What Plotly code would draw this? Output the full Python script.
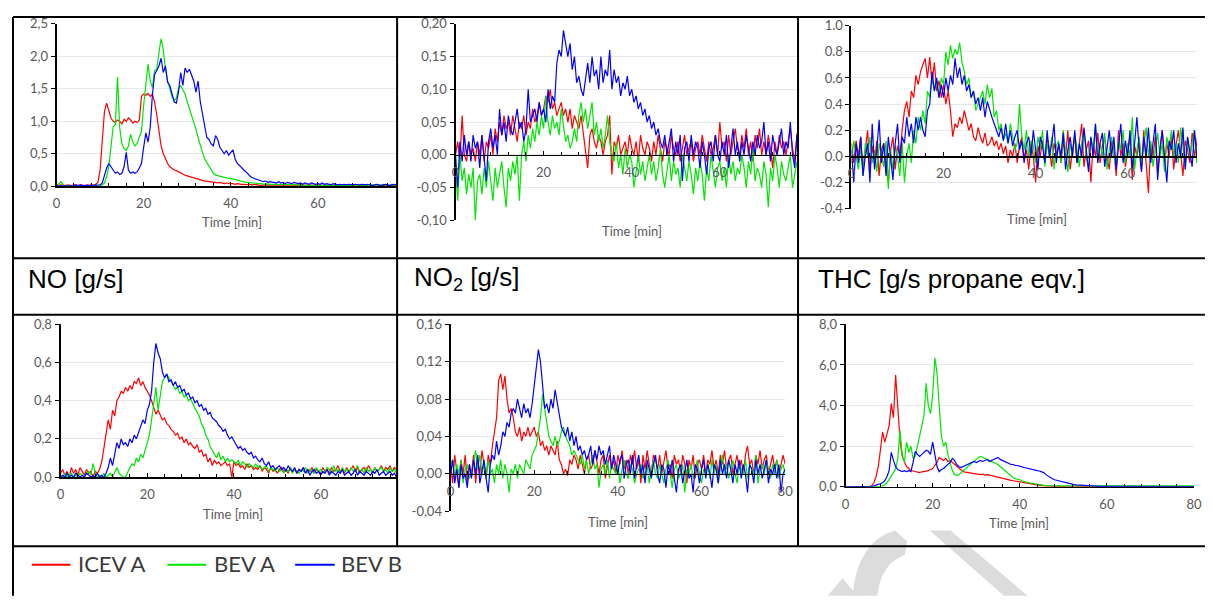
import plotly.graph_objects as go

# ---------------- data ----------------
TIME = [i / 2 for i in range(161)]  # minutes, 0 .. 80 in 0.5 min steps

SERIES_NAMES = ["ICEV A", "BEV A", "BEV B"]
SERIES_COLORS = ["#ff0000", "#00e600", "#0000ff"]

# --- NO [g/s] ---
no_icev_a = [
    0.02,0.01,0.02,0.01,0.01,0.02,0.01,0.01,0.02,0.01,
    0.01,0.02,0.01,0.01,0.02,0.01,0.02,0.01,0.03,0.06,
    0.25,0.7,1.15,1.28,1.18,1.05,1.0,0.98,1.02,1.0,
    0.96,1.03,1.0,1.05,1.02,0.97,1.0,0.98,1.02,1.38,
    1.42,1.4,1.43,1.38,1.42,1.3,1.1,0.85,0.62,0.5,
    0.42,0.35,0.3,0.27,0.25,0.24,0.22,0.2,0.19,0.17,
    0.16,0.15,0.13,0.12,0.11,0.1,0.1,0.09,0.08,0.08,
    0.07,0.07,0.06,0.06,0.05,0.06,0.05,0.04,0.05,0.04,
    0.04,0.04,0.03,0.04,0.03,0.03,0.03,0.02,0.03,0.02,
    0.02,0.03,0.02,0.02,0.01,0.02,0.02,0.01,0.02,0.01,
    0.01,0.02,0.01,0.01,0.02,0.01,0.01,0.02,0.01,0.01,
    0.02,0.01,0.01,0.02,0.01,0.01,0.02,0.01,0.01,0.02,
    0.01,0.01,0.02,0.01,0.01,0.02,0.01,0.01,0.02,0.01,
    0.01,0.02,0.01,0.01,0.02,0.01,0.01,0.02,0.01,0.01,
    0.02,0.01,0.01,0.02,0.01,0.01,0.02,0.01,0.01,0.02,
    0.01,0.01,0.02,0.01,0.01,0.02,0.01,0.01,0.02,0.01,
    0.01]
no_bev_a = [
    0.0,0.03,0.07,0.02,0.01,0.0,0.01,0.0,0.01,0.0,
    0.01,0.0,0.01,0.0,0.01,0.0,0.01,0.0,0.01,0.0,
    0.01,0.02,0.05,0.15,0.3,0.6,0.92,0.95,1.68,0.9,
    0.65,0.58,0.55,0.62,0.8,0.68,0.62,0.66,0.75,0.85,
    1.25,1.55,1.88,1.62,1.52,1.78,1.8,2.05,2.27,2.1,
    1.8,1.62,1.5,1.38,1.32,1.36,1.5,1.55,1.48,1.42,
    1.3,1.2,1.1,1.0,0.88,0.75,0.62,0.52,0.42,0.36,
    0.3,0.24,0.2,0.17,0.16,0.15,0.14,0.14,0.13,0.12,
    0.12,0.11,0.1,0.09,0.08,0.08,0.07,0.06,0.06,0.05,
    0.05,0.05,0.04,0.04,0.04,0.03,0.04,0.03,0.03,0.03,
    0.03,0.02,0.03,0.02,0.03,0.02,0.02,0.03,0.02,0.02,
    0.02,0.03,0.02,0.02,0.01,0.02,0.02,0.01,0.02,0.02,
    0.01,0.02,0.01,0.02,0.02,0.01,0.02,0.01,0.02,0.01,
    0.02,0.01,0.02,0.02,0.01,0.02,0.01,0.02,0.01,0.02,
    0.02,0.01,0.02,0.01,0.02,0.02,0.01,0.02,0.01,0.02,
    0.03,0.02,0.01,0.02,0.03,0.02,0.01,0.02,0.03,0.02,
    0.02]
no_bev_b = [
    0.01,0.0,0.01,0.0,0.01,0.0,0.01,0.0,0.01,0.02,
    0.01,0.02,0.01,0.01,0.02,0.01,0.02,0.01,0.02,0.01,
    0.02,0.05,0.18,0.28,0.35,0.3,0.25,0.2,0.22,0.18,
    0.2,0.3,0.52,0.25,0.2,0.22,0.2,0.22,0.28,0.35,
    0.6,0.82,0.68,0.9,1.4,1.72,1.78,1.85,1.97,1.75,
    1.85,1.6,1.55,1.4,1.3,1.28,1.45,1.75,1.55,1.82,
    1.75,1.8,1.7,1.62,1.45,1.62,1.3,1.1,0.95,0.75,
    0.72,0.65,0.62,0.78,0.72,0.6,0.55,0.5,0.55,0.48,
    0.52,0.56,0.42,0.35,0.32,0.28,0.25,0.22,0.18,0.15,
    0.13,0.12,0.1,0.09,0.08,0.07,0.08,0.06,0.07,0.06,
    0.06,0.05,0.07,0.05,0.06,0.04,0.06,0.05,0.04,0.06,
    0.05,0.04,0.05,0.03,0.05,0.04,0.03,0.05,0.04,0.03,
    0.04,0.03,0.05,0.03,0.04,0.03,0.02,0.04,0.03,0.02,
    0.03,0.02,0.03,0.02,0.03,0.02,0.02,0.03,0.02,0.02,
    0.03,0.02,0.02,0.03,0.02,0.01,0.02,0.03,0.02,0.01,
    0.02,0.03,0.02,0.01,0.02,0.03,0.02,0.02,0.01,0.02,
    0.02]

# --- NO2 [g/s] ---
no2_icev_a = [
    0.0,0.02,-0.01,0.06,0.0,-0.01,0.02,0.0,0.01,-0.01,
    0.02,0.0,0.03,-0.01,0.02,0.01,0.03,0.0,0.04,0.02,
    0.05,0.03,0.06,0.04,0.05,0.03,0.06,0.04,0.02,0.05,
    0.04,0.06,0.03,0.05,0.04,0.07,0.05,0.06,0.08,0.06,
    0.07,0.09,0.08,0.1,0.07,0.08,0.06,0.07,0.08,0.06,
    0.07,0.05,0.07,0.04,0.06,0.05,0.04,0.06,0.03,0.01,
    -0.02,0.03,0.04,0.02,0.01,0.03,0.02,0.0,0.02,0.03,
    0.06,-0.03,0.02,0.01,0.03,0.0,0.01,0.02,0.0,0.03,
    0.01,0.0,0.02,-0.01,0.03,0.01,0.0,0.02,0.01,-0.01,
    0.02,0.0,0.03,0.01,-0.01,0.02,0.01,0.0,0.03,0.01,
    0.0,0.02,-0.01,0.01,0.03,0.0,0.01,0.02,-0.01,0.01,
    0.02,0.0,0.03,0.01,-0.01,0.02,0.0,0.01,0.03,0.0,
    0.05,0.01,0.02,-0.01,0.03,0.0,0.02,0.04,0.01,0.0,
    0.03,0.01,0.04,0.0,0.02,-0.01,0.03,0.01,0.04,0.0,
    0.02,0.0,0.03,0.01,-0.02,0.02,0.0,0.03,0.01,0.02,
    0.0,0.02,0.04,0.01,-0.01,0.03,0.05,0.0,0.02,0.01,
    0.02]
no2_bev_a = [
    -0.02,-0.07,0.0,-0.04,-0.02,-0.06,-0.03,-0.05,-0.02,-0.1,
    -0.04,-0.03,-0.06,-0.02,-0.05,-0.01,-0.04,-0.07,-0.02,-0.05,
    -0.03,-0.01,-0.05,-0.08,-0.02,-0.04,-0.01,-0.03,0.0,-0.07,
    0.0,0.02,-0.01,0.03,0.01,0.04,0.02,0.05,0.03,0.06,
    0.04,0.09,0.05,0.03,0.06,0.04,0.05,0.03,0.07,0.04,
    0.02,0.03,0.01,0.02,0.04,0.02,0.06,0.08,0.05,0.07,
    0.04,0.06,0.08,0.03,0.05,0.02,0.04,0.01,0.03,0.06,
    0.02,0.0,-0.01,0.02,-0.02,0.0,-0.03,0.01,-0.02,0.0,
    -0.01,-0.05,-0.02,0.0,-0.03,-0.01,-0.04,-0.02,0.0,-0.03,
    -0.01,-0.04,-0.02,0.01,-0.03,-0.05,-0.02,0.0,-0.04,-0.01,
    -0.03,-0.02,-0.05,0.0,-0.02,-0.04,-0.01,-0.03,-0.06,-0.02,
    -0.04,-0.01,-0.03,-0.07,-0.02,-0.04,0.0,-0.03,-0.05,-0.02,
    -0.01,-0.04,-0.02,-0.05,0.0,-0.03,-0.01,-0.04,-0.02,-0.03,
    0.0,-0.02,-0.05,-0.01,-0.03,0.01,-0.04,-0.02,-0.03,-0.05,
    -0.01,-0.03,-0.08,-0.02,-0.04,0.0,-0.02,-0.05,-0.01,-0.03,
    -0.04,-0.02,0.0,-0.05,-0.03,-0.01,-0.04,-0.02,-0.03,-0.01,
    -0.03]
no2_bev_b = [
    0.0,-0.05,0.02,-0.01,0.03,0.0,0.02,-0.01,0.03,0.01,
    0.02,-0.02,0.03,0.0,-0.04,0.02,0.04,0.01,0.03,0.0,
    0.07,0.03,0.05,0.02,0.06,0.04,0.03,0.05,0.07,0.04,
    0.05,0.02,0.04,0.1,0.05,0.06,0.07,0.05,0.08,0.06,
    0.07,0.05,0.1,0.07,0.09,0.08,0.14,0.16,0.15,0.19,
    0.17,0.15,0.17,0.13,0.15,0.11,0.12,0.1,0.09,0.12,
    0.14,0.11,0.15,0.12,0.13,0.1,0.15,0.11,0.13,0.12,
    0.16,0.1,0.13,0.11,0.12,0.09,0.11,0.1,0.12,0.09,
    0.1,0.08,0.09,0.07,0.08,0.06,0.07,0.05,0.06,0.04,
    0.05,0.03,0.04,0.02,0.01,0.03,0.0,0.02,0.04,-0.01,
    0.02,0.0,0.03,-0.04,0.01,0.02,-0.01,0.03,0.0,0.02,
    0.01,-0.02,0.02,0.0,-0.03,0.01,0.02,-0.01,0.03,0.0,
    -0.01,0.02,0.0,0.03,-0.02,0.01,0.04,0.0,0.02,-0.01,
    0.02,0.0,0.03,0.01,-0.01,0.02,0.0,0.03,0.01,0.02,
    0.05,0.0,0.02,-0.01,0.03,0.01,0.0,0.02,0.04,0.0,
    0.02,0.01,0.05,0.0,-0.02,0.03,0.01,0.02,-0.01,0.02,
    0.0]

# --- THC [g/s propane eqv.] ---
thc_icev_a = [
    0.1,-0.05,0.12,0.0,0.15,-0.1,0.05,0.2,-0.12,0.08,
    -0.05,0.12,-0.15,0.05,0.1,-0.08,-0.2,0.05,0.15,-0.1,
    0.08,0.0,0.2,0.35,0.42,0.3,0.5,0.45,0.62,0.55,
    0.65,0.7,0.75,0.6,0.76,0.55,0.72,0.5,0.58,0.45,
    0.55,0.4,0.5,0.35,0.15,0.25,0.22,0.3,0.25,0.35,
    0.28,0.2,0.25,0.15,0.12,0.22,0.15,0.1,0.18,0.08,
    0.1,0.15,0.08,0.12,0.05,0.1,0.02,0.08,-0.05,0.05,
    0.0,0.1,-0.05,0.08,0.15,-0.02,0.05,-0.1,0.1,0.0,
    -0.2,0.08,0.0,0.12,-0.05,0.15,0.05,-0.08,0.1,0.02,
    0.08,-0.05,0.12,0.0,0.2,-0.1,0.05,0.15,-0.05,0.1,
    0.25,-0.08,0.05,0.12,-0.2,0.1,0.0,0.18,-0.05,0.08,
    0.15,0.0,-0.1,0.12,0.05,-0.15,0.2,0.0,0.1,-0.08,
    0.05,0.15,-0.18,0.08,0.0,0.12,-0.1,0.2,-0.05,-0.28,
    0.1,0.0,0.15,-0.12,0.05,0.2,-0.05,0.1,0.0,0.15,
    -0.1,0.08,0.2,0.0,-0.15,0.12,0.05,-0.05,0.18,0.0,
    0.1,0.25,-0.08,0.05,0.15,-0.1,0.08,0.0,0.12,-0.05,
    0.05]
thc_bev_a = [
    -0.05,0.12,0.0,-0.1,0.08,-0.15,0.1,0.0,0.15,-0.05,
    0.05,-0.12,0.1,0.0,-0.08,0.12,-0.25,0.05,-0.1,0.08,
    0.0,-0.15,0.1,-0.2,0.0,0.1,-0.05,0.2,0.1,0.3,
    0.2,0.35,0.25,0.5,0.45,0.62,0.5,0.58,0.45,0.6,
    0.55,0.8,0.7,0.85,0.75,0.82,0.78,0.87,0.72,0.65,
    0.55,0.6,0.45,0.5,0.35,0.4,0.45,0.5,0.4,0.55,
    0.45,0.52,0.3,0.35,0.2,0.25,0.12,0.18,0.1,0.25,
    0.15,0.05,0.1,0.4,0.15,0.05,0.2,0.0,0.12,0.08,
    -0.05,0.15,0.05,0.2,-0.08,0.1,0.0,0.15,-0.1,0.08,
    0.12,-0.05,0.2,0.05,-0.12,0.1,0.0,0.18,0.05,-0.08,
    0.1,0.2,0.0,-0.1,0.15,0.05,0.25,-0.05,0.1,0.0,
    0.18,-0.1,0.05,0.15,0.0,-0.08,0.12,0.05,0.2,-0.05,
    0.1,0.0,0.3,-0.1,0.05,0.15,-0.05,0.1,0.22,0.0,
    0.12,-0.08,0.05,0.18,0.0,0.1,-0.12,0.15,0.05,0.2,
    0.0,0.1,-0.05,0.22,0.08,-0.1,0.15,0.0,0.1,0.2,
    -0.05,0.12,0.05,0.25,0.0,0.1,-0.08,0.15,0.05,0.0,
    0.1]
thc_bev_b = [
    0.05,-0.2,0.1,-0.05,0.15,-0.15,0.0,0.1,-0.2,0.25,
    -0.1,0.05,0.28,-0.05,0.1,-0.15,0.15,0.0,-0.18,0.1,
    0.25,-0.05,0.15,0.1,0.3,0.15,0.25,0.1,0.3,0.2,
    0.3,0.2,0.15,0.35,0.4,0.65,0.5,0.6,0.45,0.55,
    0.45,0.6,0.5,0.62,0.55,0.75,0.6,0.68,0.55,0.62,
    0.5,0.55,0.45,0.5,0.4,0.45,0.35,0.45,0.3,0.42,
    0.35,0.3,0.25,0.2,0.15,0.22,0.12,0.25,0.1,0.2,
    0.08,0.15,0.2,0.05,0.12,-0.05,0.1,0.15,0.0,0.2,
    0.05,-0.1,0.15,0.08,-0.05,0.2,0.0,0.1,0.25,-0.05,
    0.1,0.0,0.18,-0.1,0.05,0.15,0.0,0.2,-0.05,0.1,
    0.0,0.22,0.05,-0.12,0.15,0.0,0.25,-0.05,0.1,0.18,
    -0.08,0.05,0.2,0.0,0.15,-0.1,0.1,0.25,-0.05,0.12,
    0.0,0.2,-0.1,0.1,0.3,0.05,-0.12,0.15,0.0,0.22,
    -0.05,0.1,0.25,-0.18,0.05,0.2,0.0,-0.2,0.12,0.05,
    0.2,-0.05,0.1,0.0,0.22,-0.1,0.15,0.05,-0.08,0.2,
    0.0,0.1,-0.12,0.15,0.05,0.2,-0.05,0.1,0.0,-0.1,
    0.05]

# --- lower-left panel ---
ll_icev_a = [
    0.02,0.04,0.01,0.03,0.0,0.05,0.02,0.04,0.01,0.05,
    0.03,0.01,0.04,0.02,0.03,0.0,0.03,0.02,0.04,0.08,
    0.15,0.22,0.3,0.25,0.35,0.32,0.4,0.42,0.45,0.44,
    0.47,0.45,0.48,0.46,0.5,0.49,0.52,0.48,0.5,0.47,
    0.45,0.43,0.4,0.36,0.33,0.35,0.32,0.3,0.31,0.28,
    0.27,0.25,0.24,0.22,0.23,0.2,0.21,0.18,0.2,0.17,
    0.18,0.16,0.15,0.17,0.13,0.14,0.11,0.12,0.08,0.1,
    0.06,0.09,0.07,0.08,0.06,0.07,0.08,0.06,0.07,0.0,
    0.08,0.06,0.07,0.05,0.06,0.04,0.07,0.05,0.06,0.04,
    0.05,0.04,0.06,0.03,0.05,0.04,0.02,0.05,0.03,0.04,
    0.02,0.04,0.05,0.03,0.04,0.02,0.05,0.03,0.04,0.02,
    0.04,0.03,0.05,0.02,0.04,0.03,0.05,0.02,0.04,0.03,
    0.02,0.05,0.03,0.04,0.02,0.05,0.03,0.04,0.06,0.03,
    0.04,0.02,0.05,0.03,0.04,0.06,0.03,0.05,0.02,0.04,
    0.05,0.03,0.06,0.04,0.02,0.05,0.03,0.04,0.06,0.03,
    0.05,0.04,0.06,0.03,0.05,0.04,0.06,0.03,0.05,0.04,
    0.05]
ll_bev_a = [
    0.01,0.0,0.02,0.0,0.01,0.02,0.0,0.01,0.0,0.02,
    0.01,0.0,0.02,0.03,0.01,0.07,0.02,0.0,0.01,0.0,
    0.02,0.0,0.01,0.02,0.0,0.03,0.05,0.02,0.01,0.0,
    0.0,0.03,0.05,0.07,0.06,0.1,0.08,0.12,0.1,0.14,
    0.18,0.22,0.3,0.4,0.47,0.35,0.42,0.5,0.52,0.54,
    0.52,0.5,0.48,0.46,0.47,0.44,0.45,0.42,0.43,0.4,
    0.41,0.38,0.36,0.34,0.32,0.28,0.26,0.22,0.2,0.16,
    0.14,0.12,0.1,0.13,0.09,0.11,0.08,0.1,0.08,0.09,
    0.08,0.07,0.09,0.06,0.08,0.07,0.05,0.07,0.06,0.05,
    0.07,0.05,0.06,0.04,0.05,0.06,0.03,0.05,0.04,0.03,
    0.05,0.03,0.04,0.02,0.04,0.03,0.05,0.02,0.04,0.03,
    0.02,0.04,0.03,0.05,0.02,0.04,0.03,0.02,0.05,0.03,
    0.04,0.02,0.03,0.05,0.04,0.02,0.06,0.03,0.04,0.02,
    0.05,0.03,0.04,0.02,0.05,0.03,0.04,0.06,0.03,0.04,
    0.02,0.05,0.03,0.04,0.02,0.05,0.03,0.04,0.05,0.03,
    0.04,0.02,0.05,0.03,0.04,0.02,0.03,0.05,0.02,0.04,
    0.03]
ll_bev_b = [
    0.0,0.01,0.0,0.02,0.0,0.01,0.0,0.02,0.01,0.0,
    0.01,0.0,0.02,0.01,0.0,0.01,0.0,0.02,0.0,0.01,
    0.0,0.02,0.05,0.1,0.06,0.12,0.18,0.15,0.2,0.17,
    0.18,0.16,0.2,0.18,0.22,0.2,0.23,0.26,0.3,0.28,
    0.35,0.38,0.45,0.6,0.7,0.65,0.62,0.55,0.52,0.54,
    0.5,0.51,0.48,0.5,0.47,0.48,0.45,0.46,0.43,0.44,
    0.41,0.42,0.39,0.4,0.37,0.38,0.35,0.36,0.33,0.34,
    0.31,0.3,0.29,0.27,0.26,0.24,0.25,0.22,0.2,0.21,
    0.19,0.17,0.15,0.16,0.14,0.15,0.13,0.12,0.13,0.1,
    0.11,0.09,0.08,0.1,0.07,0.06,0.08,0.05,0.06,0.04,
    0.05,0.06,0.04,0.05,0.03,0.06,0.04,0.03,0.05,0.02,
    0.04,0.03,0.05,0.02,0.04,0.01,0.03,0.04,0.02,0.03,
    0.01,0.03,0.02,0.04,0.01,0.03,0.02,0.01,0.03,0.02,
    0.04,0.01,0.02,0.03,0.01,0.02,0.04,0.01,0.03,0.02,
    0.01,0.03,0.02,0.01,0.03,0.02,0.04,0.01,0.02,0.03,
    0.01,0.02,0.03,0.01,0.02,0.0,0.02,0.06,0.01,0.02,
    0.01]

# --- lower-middle panel ---
lm_icev_a = [
    0.01,-0.01,0.02,0.0,-0.015,0.015,0.0,0.02,-0.01,0.01,
    0.0,0.02,-0.01,0.015,0.0,0.025,0.01,-0.005,0.02,0.01,
    0.03,0.045,0.06,0.1,0.107,0.09,0.105,0.08,0.065,0.07,
    0.06,0.045,0.04,0.05,0.035,0.045,0.04,0.05,0.04,0.045,
    0.05,0.04,0.045,0.03,0.035,0.025,0.03,0.02,0.03,0.025,
    0.02,0.035,0.015,0.01,0.0,0.005,-0.002,0.015,0.01,0.02,
    0.015,0.005,0.02,0.01,0.0,0.015,0.02,0.005,0.01,0.025,
    0.01,0.0,0.015,0.02,-0.005,0.01,0.02,0.005,0.015,0.0,
    0.02,0.01,0.025,0.005,0.015,0.0,0.02,0.01,0.025,0.005,
    0.015,-0.01,0.02,0.005,0.025,0.01,0.0,0.02,0.015,0.005,
    0.02,0.0,0.015,0.025,0.005,0.01,-0.005,0.02,0.01,0.015,
    0.0,0.02,0.01,-0.01,0.015,0.005,0.02,-0.005,0.01,0.015,
    0.005,0.02,0.0,0.015,0.01,0.025,0.005,0.015,0.0,0.02,
    0.01,0.025,0.005,0.015,0.02,0.0,0.01,0.02,0.005,0.015,
    0.0,0.02,0.03,0.01,0.015,0.0,0.02,0.01,0.025,0.005,
    0.015,0.02,0.0,0.01,0.02,0.005,0.015,0.0,0.01,0.02,
    0.01]
lm_bev_a = [
    0.01,0.015,-0.005,0.01,0.0,0.015,-0.01,0.005,0.01,-0.005,
    0.0,0.015,0.025,0.005,0.02,0.0,0.01,-0.005,0.015,0.0,
    0.005,-0.01,0.01,0.0,0.015,-0.005,0.01,0.0,-0.02,0.005,
    0.0,0.01,-0.005,0.01,0.005,0.0,0.015,0.01,0.005,0.02,
    0.025,0.03,0.045,0.06,0.085,0.07,0.05,0.04,0.035,0.03,
    0.04,0.03,0.035,0.045,0.05,0.04,0.035,0.03,0.02,0.025,
    0.02,0.015,0.01,0.02,0.005,0.015,0.0,0.01,0.02,0.005,
    0.01,-0.015,0.005,0.01,0.0,0.015,-0.005,0.01,0.005,0.0,
    0.01,-0.01,0.005,0.015,0.0,-0.005,0.01,0.005,-0.01,0.0,
    0.005,0.01,-0.005,0.0,0.01,-0.01,0.005,0.015,0.0,-0.005,
    0.01,0.0,-0.01,0.005,0.015,0.0,-0.015,0.005,0.01,-0.005,
    0.0,0.01,-0.02,0.005,0.0,0.01,-0.005,0.005,0.015,0.0,
    -0.01,0.005,0.0,0.01,-0.005,0.015,0.0,0.01,-0.01,0.005,
    0.02,0.0,0.01,-0.005,0.005,0.015,0.0,-0.01,0.01,0.005,
    0.0,0.015,-0.005,0.01,0.005,0.0,0.02,-0.01,0.005,0.01,
    0.0,0.015,0.005,-0.005,0.01,0.0,0.015,-0.005,0.005,0.01,
    0.0]
lm_bev_b = [
    0.0,0.015,-0.01,0.005,-0.015,0.01,-0.005,0.0,-0.015,0.01,
    -0.005,0.015,0.0,0.02,-0.01,0.005,0.015,-0.005,-0.02,0.01,
    0.02,0.015,0.035,0.02,0.03,0.045,0.04,0.055,0.05,0.065,
    0.07,0.065,0.08,0.07,0.06,0.075,0.065,0.07,0.06,0.075,
    0.095,0.12,0.133,0.12,0.09,0.07,0.075,0.065,0.08,0.07,
    0.09,0.075,0.06,0.05,0.045,0.04,0.05,0.035,0.045,0.03,
    0.04,0.025,0.03,0.02,0.025,0.015,0.02,0.03,0.01,0.025,
    0.015,0.03,0.02,0.025,0.01,0.02,0.03,0.005,0.02,0.01,
    0.0,0.015,0.02,-0.005,0.01,0.015,0.0,0.02,-0.005,0.01,
    0.02,0.0,0.01,-0.01,0.015,0.005,-0.005,0.01,0.02,0.0,
    -0.01,0.01,0.005,-0.015,0.01,0.0,0.015,-0.005,-0.02,0.005,
    0.01,-0.01,0.005,0.015,-0.005,0.0,-0.02,0.01,0.005,-0.01,
    0.005,0.015,-0.005,0.01,0.0,-0.015,0.01,0.005,-0.01,0.015,
    0.0,0.01,-0.005,0.015,0.005,-0.01,0.01,0.0,0.015,-0.005,
    0.01,0.0,-0.02,0.01,0.005,-0.01,0.015,0.0,0.01,-0.005,
    0.005,0.015,-0.01,0.005,0.0,0.01,-0.005,0.01,-0.02,0.0,
    0.005]

# --- lower-right panel ---
lr_icev_a = [
    0,0,0,0,0,0,0,0,0,0,
    0,0.02,0.05,0.2,0.5,1.0,1.8,2.7,2.2,2.6,
    3.0,4.1,3.4,5.5,4.0,2.3,1.5,1.2,1.0,0.9,
    0.8,0.78,0.75,0.72,0.7,0.74,0.75,0.78,0.8,0.85,
    0.9,1.05,1.2,1.45,1.35,1.3,1.4,1.25,1.3,1.2,
    1.1,1.0,0.9,0.8,0.75,0.72,0.7,0.68,0.66,0.65,
    0.65,0.62,0.6,0.62,0.58,0.6,0.56,0.55,0.53,0.5,
    0.48,0.45,0.43,0.4,0.38,0.35,0.32,0.3,0.28,0.25,
    0.22,0.2,0.18,0.16,0.14,0.12,0.1,0.09,0.08,0.07,
    0.06,0.05,0.04,0.04,0.03,0.03,0.02,0.02,0.02,0.01,
    0.01,0.01,0.01,0.01,0.01,0.01,0.01,0.01,0.01,0.01,
    0.01,0.01,0.01,0.01,0.01,0.01,0.01,0.01,0.01,0.01,
    0.01,0.01,0.01,0.01,0.01,0.01,0.01,0.01,0.01,0.01,
    0.01,0.01,0.01,0.01,0.01,0.01,0.01,0.01,0.01,0.01,
    0.01,0.01,0.01,0.01,0.01,0.01,0.01,0.01,0.01,0.01,
    0.01,0.01,0.01,0.01,0.01,0.01,0.01,0.01,0.01,0.01,
    0.01]
lr_bev_a = [
    0,0,0,0,0,0,0,0,0,0,
    0,0,0,0,0,0,0.02,0.05,0.1,0.2,
    0.35,0.5,0.7,0.9,1.4,2.8,1.6,1.2,2.2,1.7,
    2.0,1.4,1.5,2.0,2.5,3.0,3.5,5.1,4.0,3.6,
    4.5,6.35,5.6,4.0,2.5,2.0,2.2,1.6,1.2,0.8,
    0.6,0.55,0.6,0.7,0.8,0.9,1.0,1.1,1.2,1.3,
    1.4,1.45,1.5,1.45,1.4,1.35,1.3,1.25,1.2,1.15,
    1.1,1.0,0.9,0.8,0.7,0.6,0.5,0.45,0.4,0.38,
    0.35,0.3,0.25,0.22,0.2,0.18,0.15,0.13,0.11,0.1,
    0.08,0.07,0.06,0.05,0.05,0.04,0.04,0.04,0.03,0.03,
    0.03,0.04,0.03,0.04,0.03,0.04,0.03,0.04,0.03,0.04,
    0.03,0.04,0.03,0.04,0.03,0.04,0.03,0.04,0.04,0.04,
    0.04,0.04,0.04,0.05,0.04,0.04,0.05,0.04,0.04,0.05,
    0.04,0.05,0.04,0.05,0.04,0.05,0.04,0.05,0.05,0.05,
    0.04,0.05,0.05,0.05,0.04,0.05,0.05,0.05,0.05,0.05,
    0.05,0.05,0.05,0.05,0.05,0.05,0.05,0.05,0.05,0.05,
    0.05]
lr_bev_b = [
    0,0,0,0,0,0,0,0,0,0,
    0,0,0.02,0.05,0.1,0.12,0.15,0.2,0.3,0.5,
    0.8,1.7,1.3,1.0,0.85,0.8,0.75,0.8,0.75,0.8,
    0.75,1.2,1.75,1.6,1.5,1.6,1.7,1.8,1.75,1.6,
    2.2,1.5,1.0,0.75,0.85,0.9,1.0,1.1,1.2,1.4,
    1.3,1.1,1.0,0.95,1.0,1.05,1.1,1.15,1.2,1.25,
    1.2,1.25,1.3,1.25,1.3,1.35,1.25,1.3,1.35,1.4,
    1.45,1.35,1.3,1.25,1.2,1.15,1.1,1.1,1.05,1.05,
    1.0,0.98,0.95,0.92,0.9,0.88,0.85,0.82,0.8,0.78,
    0.75,0.7,0.6,0.52,0.45,0.4,0.35,0.32,0.3,0.28,
    0.25,0.22,0.18,0.16,0.13,0.11,0.1,0.09,0.08,0.07,
    0.06,0.05,0.05,0.04,0.04,0.03,0.03,0.02,0.02,0.02,
    0.02,0.02,0.01,0.02,0.01,0.02,0.01,0.01,0.02,0.01,
    0.01,0.02,0.01,0.01,0.01,0.02,0.01,0.01,0.01,0.01,
    0.01,0.01,0.01,0.01,0.01,0.01,0.01,0.01,0.01,0.01,
    0.01,0.01,0.01,0.01,0.01,0.01,0.01,0.01,0.01,0.01,
    0.01]

# y tick values / labels per panel
NO_TICKS = [0, 0.5, 1.0, 1.5, 2.0, 2.5]
NO_LABELS = ["0,0", "0,5", "1,0", "1,5", "2,0", "2,5"]
NO2_TICKS = [-0.10, -0.05, 0.0, 0.05, 0.10, 0.15, 0.20]
NO2_LABELS = ["-0,10", "-0,05", "0,00", "0,05", "0,10", "0,15", "0,20"]
THC_TICKS = [-0.4, -0.2, 0.0, 0.2, 0.4, 0.6, 0.8, 1.0]
THC_LABELS = ["-0.4", "-0.2", "0.0", "0.2", "0.4", "0.6", "0.8", "1.0"]
LL_TICKS = [0, 0.2, 0.4, 0.6, 0.8]
LL_LABELS = ["0,0", "0,2", "0,4", "0,6", "0,8"]
LM_TICKS = [-0.04, 0.0, 0.04, 0.08, 0.12, 0.16]
LM_LABELS = ["-0,04", "0,00", "0,04", "0,08", "0,12", "0,16"]
LR_TICKS = [0, 2, 4, 6, 8]
LR_LABELS = ["0,0", "2,0", "4,0", "6,0", "8,0"]

ROW_LABELS = ["NO [g/s]", "NO<sub>2</sub> [g/s]", "THC [g/s propane eqv.]"]
X_TITLE = "Time [min]"

# ---------------- layout helpers ----------------
# The page body keeps its default 8px margin, so the figure is sized to
# fill the 1213x604 window exactly and page pixels are offset by 8.
PAGE_W, PAGE_H, OFF = 1213, 604, 8
W, H = PAGE_W - 2 * OFF, PAGE_H - 2 * OFF
def fx(px):
    return (px - OFF) / W
def fy(py):
    return 1 - (py - OFF) / H
def clamp(v):
    return max(0.0, min(1.0, v))

panels = [
    dict(data=[no_icev_a, no_bev_a, no_bev_b], xpx=(53, 397), ppm=4.4, ypx=(16, 183), yr=(0, 2.5),
         tv=NO_TICKS, tt=NO_LABELS, title=(230, 220)),
    dict(data=[no2_icev_a, no2_bev_a, no2_bev_b], xpx=(456, 802), ppm=4.45, ypx=(16, 218), yr=(-0.10, 0.20),
         tv=NO2_TICKS, tt=NO2_LABELS, title=(634, 229)),
    dict(data=[thc_icev_a, thc_bev_a, thc_bev_b], xpx=(856, 1205), ppm=4.65, ypx=(18, 206), yr=(-0.4, 1.0),
         tv=THC_TICKS, tt=THC_LABELS, title=(1043, 217)),
    dict(data=[ll_icev_a, ll_bev_a, ll_bev_b], xpx=(57, 397), ppm=4.38, ypx=(325, 482), yr=(0, 0.8),
         tv=LL_TICKS, tt=LL_LABELS, title=(231, 520)),
    dict(data=[lm_icev_a, lm_bev_a, lm_bev_b], xpx=(451, 789), ppm=4.225, ypx=(325, 517), yr=(-0.04, 0.16),
         tv=LM_TICKS, tt=LM_LABELS, title=(620, 528)),
    dict(data=[lr_icev_a, lr_bev_a, lr_bev_b], xpx=(850, 1202), ppm=4.4, ypx=(325, 492), yr=(0, 8),
         tv=LR_TICKS, tt=LR_LABELS, title=(1025, 529)),
]

TICK_FONT = dict(family="Lato, 'Open Sans', sans-serif", size=13, color="#595959")

fig = go.Figure()
layout = dict(width=W, height=H, margin=dict(l=0, r=0, t=0, b=0, pad=0), autosize=False,
              paper_bgcolor="white", plot_bgcolor="rgba(0,0,0,0)", showlegend=False)
annotations = []

for i, p in enumerate(panels):
    n = "" if i == 0 else str(i + 1)
    xa, ya = "x" + n, "y" + n
    for vals, name, col in zip(p["data"], SERIES_NAMES, SERIES_COLORS):
        fig.add_trace(go.Scatter(x=TIME, y=vals, name=name, mode="lines",
                                 line=dict(color=col, width=1.2), xaxis=xa, yaxis=ya,
                                 hoverinfo="skip"))
    x0p, x1p = p["xpx"]
    y0, y1 = p["ypx"]
    lo, hi = p["yr"]
    xmax = (x1p - x0p) / p["ppm"]
    xaxis = dict(domain=[clamp(fx(x0p)), clamp(fx(x1p))], range=[0, xmax],
                 showgrid=False, zeroline=False, showline=True, linecolor="black", linewidth=1.5,
                 ticks="inside", ticklen=4, tickcolor="black", tickwidth=1,
                 tick0=0, dtick=20, tickfont=TICK_FONT, ticklabelstandoff=5,
                 minor=dict(dtick=4, ticks="inside", ticklen=3, tickcolor="black", tickwidth=1),
                 fixedrange=True)
    if lo < 0:
        zero_px = y0 + (hi / (hi - lo)) * (y1 - y0)
        xaxis.update(anchor="free", position=fy(zero_px))
    else:
        xaxis.update(anchor=ya)
    yaxis = dict(domain=[fy(y1), fy(y0)], range=[lo, hi], anchor=xa,
                 tickvals=p["tv"], ticktext=p["tt"], tickfont=TICK_FONT,
                 showgrid=True, gridcolor="#e8e8e8", gridwidth=1, zeroline=False,
                 showline=True, linecolor="black", linewidth=2,
                 ticks="outside", ticklen=4, tickcolor="black", fixedrange=True)
    layout["xaxis" + n] = xaxis
    layout["yaxis" + n] = yaxis
    tx, ty = p["title"]
    annotations.append(dict(text=X_TITLE, x=fx(tx), y=fy(ty), xref="paper", yref="paper",
                            showarrow=False, xanchor="center", yanchor="middle",
                            font=dict(family="Lato, sans-serif", size=13, color="#595959")))

# row labels
for text, px in zip(ROW_LABELS, [22, 412, 820]):
    annotations.append(dict(text=text, x=fx(px), y=fy(278), xref="paper", yref="paper",
                            showarrow=False, xanchor="left", yanchor="middle",
                            font=dict(family="Liberation Sans, Arial, sans-serif", size=26, color="black")))

shapes = []
# legend (manual)
legend_pos = [(28, 67, 73), (165, 204, 210), (294, 334, 338)]
for (a, b, t), name, col in zip(legend_pos, SERIES_NAMES, SERIES_COLORS):
    shapes.append(dict(type="line", xref="paper", yref="paper", x0=fx(a), x1=fx(b), y0=fy(572), y1=fy(572),
                       line=dict(color=col, width=2)))
    annotations.append(dict(text=name, x=fx(t), y=fy(571), xref="paper", yref="paper",
                            showarrow=False, xanchor="left", yanchor="middle",
                            font=dict(family="Lato, sans-serif", size=22, color="#3a3a3a")))

# watermark fragments (page pixel paths)
WM = "#dcdcdc"
for path in [
    "M 935 537 L 956 537 L 1034 604 L 1010 604 Z",
    "M 857 604 Q 862 548 900 537 L 912 548 L 910 562 Q 886 570 882 604 Z",
    "M 847 586 L 862 604 L 832 604 Z",
]:
    toks = path.split()
    out = []
    k = 0
    while k < len(toks):
        t = toks[k]
        if t in ("M", "L", "Q", "Z"):
            out.append(t)
            k += 1
        else:
            out.append("%.5f,%.5f" % (fx(float(toks[k])), fy(float(toks[k + 1]))))
            k += 2
    shapes.append(dict(type="path", xref="paper", yref="paper", path=" ".join(out),
                       fillcolor=WM, line=dict(width=0), layer="below"))

# table borders
BL = dict(color="black", width=2)
for y in [9, 257, 315, 553]:
    shapes.append(dict(type="line", xref="paper", yref="paper", x0=fx(9), x1=fx(1213), y0=fy(y), y1=fy(y), line=BL))
shapes.append(dict(type="line", xref="paper", yref="paper", x0=fx(9), x1=fx(9), y0=fy(9), y1=fy(604), line=BL))
for x in [397, 802]:
    shapes.append(dict(type="line", xref="paper", yref="paper", x0=fx(x), x1=fx(x), y0=fy(9), y1=fy(553), line=BL))

layout["annotations"] = annotations
layout["shapes"] = shapes
fig.update_layout(**layout)

fig.write_html("out.html", config={"displayModeBar": False, "staticPlot": True})
